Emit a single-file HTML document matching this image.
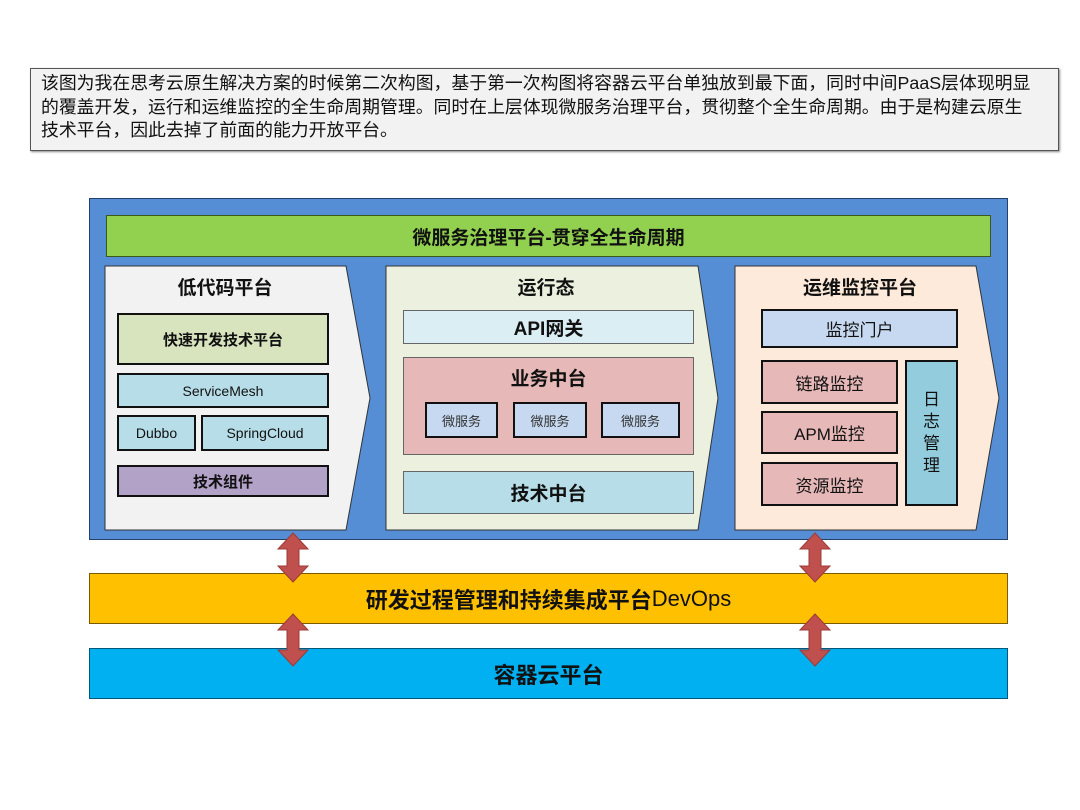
<!DOCTYPE html>
<html><head><meta charset="utf-8">
<style>
body{margin:0;width:1080px;height:810px;background:#fff;position:relative;overflow:hidden;font-family:"Liberation Sans","Noto Sans CJK SC",sans-serif;}
.a{position:absolute;box-sizing:border-box;display:flex;align-items:center;justify-content:center;text-align:center;color:#111;}
.k{border:2.5px solid #111;}
.b{font-weight:bold;}
</style></head><body>
<div class="a" style="left:30px;top:68px;width:1029px;height:83px;background:#f2f2f2;border:1px solid #555;box-shadow:1px 1px 2px #888;justify-content:flex-start;align-items:flex-start;text-align:left;padding:3px 0 0 10px;font-size:17.85px;line-height:23.5px;white-space:nowrap;">该图为我在思考云原生解决方案的时候第二次构图，基于第一次构图将容器云平台单独放到最下面，同时中间PaaS层体现明显<br>的覆盖开发，运行和运维监控的全生命周期管理。同时在上层体现微服务治理平台，贯彻整个全生命周期。由于是构建云原生<br>技术平台，因此去掉了前面的能力开放平台。</div>

<div class="a" style="left:89px;top:198px;width:919px;height:342px;background:#558ed5;border:1px solid #24406b;"></div>
<div class="a b" style="left:106px;top:215px;width:885px;height:42px;background:#92d050;border:1px solid #3a5a1a;font-size:19px;">微服务治理平台-贯穿全生命周期</div>

<svg style="position:absolute;left:0;top:0" width="1080" height="810">
<polygon points="105,266 346,266 370,398 346,530 105,530" fill="#f2f2f2" stroke="#333" stroke-width="1"/>
<polygon points="386,266 698,266 718,398 698,530 386,530" fill="#ebf1de" stroke="#333" stroke-width="1"/>
<polygon points="735,266 976,266 999,398 976,530 735,530" fill="#fdeada" stroke="#333" stroke-width="1"/>
</svg>

<div class="a b" style="left:105px;top:270px;width:240px;height:32px;font-size:19px;">低代码平台</div>
<div class="a b k" style="left:117px;top:313px;width:212px;height:52px;background:#d7e4bd;font-size:15px;">快速开发技术平台</div>
<div class="a k" style="left:117px;top:373px;width:212px;height:35px;background:#b7dee8;font-size:14px;">ServiceMesh</div>
<div class="a k" style="left:117px;top:415px;width:79px;height:36px;background:#b7dee8;font-size:14px;">Dubbo</div>
<div class="a k" style="left:201px;top:415px;width:128px;height:36px;background:#b7dee8;font-size:14px;">SpringCloud</div>
<div class="a b k" style="left:117px;top:465px;width:212px;height:32px;background:#b3a2c7;font-size:15px;">技术组件</div>

<div class="a b" style="left:386px;top:270px;width:320px;height:32px;font-size:19px;">运行态</div>
<div class="a b" style="left:403px;top:310px;width:291px;height:34px;background:#dbeef4;border:1px solid #666;font-size:19px;">API网关</div>
<div class="a" style="left:403px;top:357px;width:291px;height:98px;background:#e6b9b8;border:1px solid #666;"></div>
<div class="a b" style="left:403px;top:362px;width:291px;height:30px;font-size:19px;">业务中台</div>
<div class="a k" style="left:425px;top:402px;width:73px;height:36px;background:#c6d9f1;font-size:13px;color:#333;">微服务</div>
<div class="a k" style="left:513px;top:402px;width:74px;height:36px;background:#c6d9f1;font-size:13px;color:#333;">微服务</div>
<div class="a k" style="left:601px;top:402px;width:79px;height:36px;background:#c6d9f1;font-size:13px;color:#333;">微服务</div>
<div class="a b" style="left:403px;top:471px;width:291px;height:43px;background:#b7dee8;border:1px solid #666;font-size:19px;">技术中台</div>

<div class="a b" style="left:735px;top:270px;width:250px;height:32px;font-size:19px;">运维监控平台</div>
<div class="a k" style="left:761px;top:309px;width:197px;height:39px;background:#c6d9f1;font-size:17px;">监控门户</div>
<div class="a k" style="left:761px;top:360px;width:137px;height:44px;background:#e6b9b8;font-size:17px;">链路监控</div>
<div class="a k" style="left:761px;top:411px;width:137px;height:43px;background:#e6b9b8;font-size:17px;">APM监控</div>
<div class="a k" style="left:761px;top:462px;width:137px;height:44px;background:#e6b9b8;font-size:17px;">资源监控</div>
<div class="a k" style="left:905px;top:360px;width:53px;height:146px;background:#93cddd;font-size:17px;line-height:22px;">日<br>志<br>管<br>理</div>

<div class="a" style="left:89px;top:573px;width:919px;height:51px;background:#ffc000;border:1px solid #7a5c00;font-size:22px;"><b>研发过程管理和持续集成平台</b>DevOps</div>
<div class="a b" style="left:89px;top:648px;width:919px;height:51px;background:#00b0f0;border:1px solid #00587a;font-size:22px;">容器云平台</div>

<svg style="position:absolute;left:0;top:0" width="1080" height="810">
<g fill="#c0504d" stroke="#9b3a37" stroke-width="1">
<polygon points="293,533 308,549 299,549 299,566 308,566 293,582 278,566 287,566 287,549 278,549"/>
<polygon points="815,533 830,549 821,549 821,566 830,566 815,582 800,566 809,566 809,549 800,549"/>
<polygon points="293,614 308,630 299,630 299,650 308,650 293,666 278,650 287,650 287,630 278,630"/>
<polygon points="815,614 830,630 821,630 821,650 830,650 815,666 800,650 809,650 809,630 800,630"/>
</g>
</svg>
</body></html>
